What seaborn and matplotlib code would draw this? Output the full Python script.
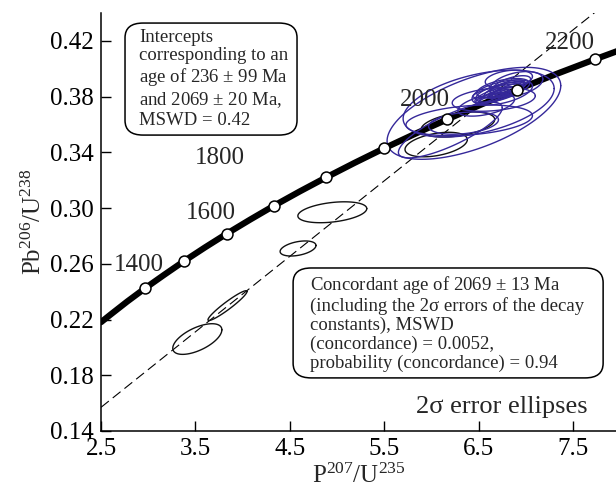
import numpy as np
import matplotlib
matplotlib.use("Agg")
import matplotlib.pyplot as plt
import seaborn as sns
from matplotlib.patches import FancyBboxPatch

# Concordia curve (Pb206/U238 vs Pb207/U235), every 50 Ma
conc_age = [1272, 1300, 1350, 1400, 1450, 1500, 1550, 1600, 1650, 1700, 1750,
            1800, 1850, 1900, 1950, 2000, 2050, 2100, 2150, 2200, 2250]
conc_x = [2.500, 2.598, 2.779, 2.970, 3.171, 3.381, 3.602, 3.834, 4.079, 4.335, 4.604,
          4.887, 5.184, 5.496, 5.824, 6.168, 6.530, 6.910, 7.310, 7.729, 8.170]
conc_y = [0.2181, 0.2234, 0.2330, 0.2426, 0.2522, 0.2620, 0.2718, 0.2817, 0.2917, 0.3018, 0.3119,
          0.3221, 0.3324, 0.3428, 0.3532, 0.3637, 0.3744, 0.3851, 0.3959, 0.4067, 0.4177]
marker_ages = [1400, 1500, 1600, 1700, 1800, 1900, 2000, 2100, 2200]
label_ages = ["1400", "1600", "1800", "2000", "2200"]
label_x = [2.90, 3.665, 3.76, 5.93, 7.47]
label_y = [0.2592, 0.2965, 0.3360, 0.3776, 0.4186]

# Discordia line end points
disc_x = [2.5, 8.0]
disc_y = [0.157, 0.455]

# Error ellipses: centre x, centre y, half width x, half height y, correlation
blue_cx = [6.45, 6.50, 6.20, 6.40, 6.66, 6.82, 6.34, 6.75, 6.72, 6.78,
           6.70, 6.80, 6.65, 6.75, 6.85, 6.62, 6.90, 6.76, 6.72, 6.58,
           6.70, 6.82, 6.68]
blue_cy = [0.368, 0.375, 0.356, 0.363, 0.378, 0.3925, 0.361, 0.383, 0.383, 0.385,
           0.381, 0.387, 0.380, 0.383, 0.389, 0.379, 0.389, 0.386, 0.382, 0.374,
           0.384, 0.386, 0.381]
blue_sx = [0.92, 0.80, 0.55, 0.67, 0.44, 0.25, 0.37, 0.32, 0.25, 0.22,
           0.20, 0.18, 0.18, 0.15, 0.20, 0.13, 0.28, 0.28, 0.10, 0.30,
           0.26, 0.16, 0.22]
blue_sy = [0.033, 0.024, 0.020, 0.011, 0.0085, 0.0065, 0.008, 0.009, 0.007, 0.006,
           0.006, 0.005, 0.005, 0.004, 0.006, 0.004, 0.009, 0.007, 0.003, 0.008,
           0.005, 0.004, 0.006]
blue_rho = [0.6, 0.45, 0.8, 0.3, 0.3, 0.3, 0.3, 0.5, 0.6, 0.7,
            0.8, 0.7, 0.8, 0.8, 0.6, 0.9, 0.4, 0.5, 0.9, 0.5,
            0.75, 0.85, 0.7]

black_cx = [6.05, 6.28, 4.95, 4.587, 3.84, 3.52]
black_cy = [0.3456, 0.360, 0.297, 0.271, 0.230, 0.206]
black_sx = [0.33, 0.39, 0.365, 0.19, 0.207, 0.26]
black_sy = [0.0088, 0.009, 0.0075, 0.0054, 0.0107, 0.011]
black_rho = [0.4, 0.4, 0.35, 0.4, 0.95, 0.6]

sns.set_theme(style="ticks")
plt.rcParams["font.family"] = ["Liberation Serif", "DejaVu Serif"]
plt.rcParams["mathtext.fontset"] = "custom"
plt.rcParams["mathtext.rm"] = "Liberation Serif"
plt.rcParams["mathtext.it"] = "Liberation Serif:italic"

fig = plt.figure(figsize=(6.16, 4.97), dpi=100)
ax = fig.add_axes([0.164, 0.1328, 0.836, 0.841])


def draw_ellipse(cx, cy, sx, sy, rho, color, z):
    t = np.linspace(0, 2 * np.pi, 120)
    ex = cx + sx * np.cos(t)
    ey = cy + sy * (rho * np.cos(t) + np.sqrt(1 - rho ** 2) * np.sin(t))
    ax.plot(ex, ey, color=color, lw=1.0, zorder=z)


for i in range(len(black_cx)):
    draw_ellipse(black_cx[i], black_cy[i], black_sx[i], black_sy[i], black_rho[i], "#111111", 2)
for i in range(len(blue_cx)):
    draw_ellipse(blue_cx[i], blue_cy[i], blue_sx[i], blue_sy[i], blue_rho[i], "#35289a", 3.5)

# discordia
ax.plot(disc_x, disc_y, color="black", lw=0.8, dashes=(9, 4.5), zorder=1)

# concordia
sns.lineplot(x=conc_x, y=conc_y, sort=False, color="black", lw=4.5, ax=ax, zorder=3)
mx = [conc_x[conc_age.index(a)] for a in marker_ages]
my = [conc_y[conc_age.index(a)] for a in marker_ages]
sns.scatterplot(x=mx, y=my, s=62, color="white", edgecolor="black", linewidth=1.1, ax=ax, zorder=4)

for lab, lx, ly in zip(label_ages, label_x, label_y):
    ax.text(lx, ly, lab, fontsize=18, ha="center", va="center", zorder=5)

ax.set_xlim(2.5, 7.955)
ax.set_ylim(0.14, 0.44)
ax.set_xticks([2.5, 3.5, 4.5, 5.5, 6.5, 7.5])
ax.set_yticks([0.14, 0.18, 0.22, 0.26, 0.30, 0.34, 0.38, 0.42])
ax.set_xticklabels(["2.5", "3.5", "4.5", "5.5", "6.5", "7.5"])
ax.set_yticklabels(["0.14", "0.18", "0.22", "0.26", "0.30", "0.34", "0.38", "0.42"])
ax.tick_params(direction="in", length=7, width=1, labelsize=18, colors="black")
ax.tick_params(axis="x", pad=5)
ax.tick_params(axis="y", pad=5)
sns.despine(ax=ax)
for sp in ["left", "bottom"]:
    ax.spines[sp].set_color("black")
    ax.spines[sp].set_linewidth(1.1)

ax.set_xlabel(r"P$^{207}$/U$^{235}$", fontsize=18, labelpad=3)
ax.set_ylabel(r"Pb$^{206}$/U$^{238}$", fontsize=18, labelpad=3)

# text boxes
box1 = FancyBboxPatch((0.0466, 0.708), 0.334, 0.268, boxstyle="round,pad=0,rounding_size=0.035",
                      transform=ax.transAxes, facecolor="white", edgecolor="black", lw=1.1, zorder=6)
ax.add_patch(box1)
ax.text(0.0738, 0.962, "Intercepts\ncorresponding to an\nage of 236 $\\pm$ 99 Ma\nand 2069 $\\pm$ 20 Ma,\nMSWD = 0.42",
        transform=ax.transAxes, fontsize=13.5, ha="left", va="top", linespacing=1.12, zorder=7)

box2 = FancyBboxPatch((0.373, 0.127), 0.602, 0.263, boxstyle="round,pad=0,rounding_size=0.035",
                      transform=ax.transAxes, facecolor="white", edgecolor="black", lw=1.1, zorder=6)
ax.add_patch(box2)
ax.text(0.406, 0.376, "Concordant age of 2069 $\\pm$ 13 Ma\n(including the 2σ errors of the decay\nconstants), MSWD\n(concordance) = 0.0052,\nprobability (concordance) = 0.94",
        transform=ax.transAxes, fontsize=13.5, ha="left", va="top", linespacing=1.12, zorder=7)

ax.text(0.9456, 0.0574, "2σ error ellipses", transform=ax.transAxes, fontsize=19, ha="right", va="center")

fig.savefig("out.png", dpi=100)
